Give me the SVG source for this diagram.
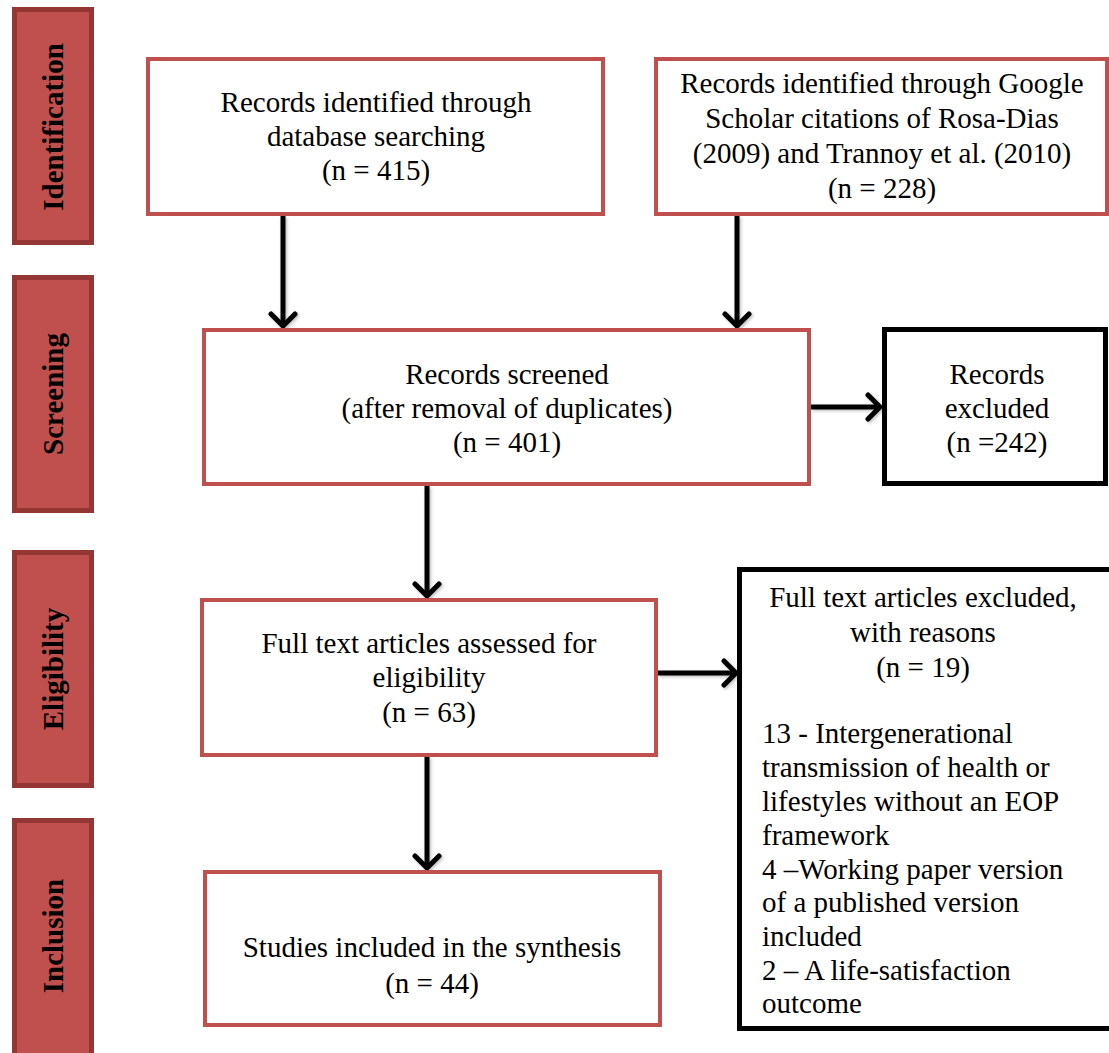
<svg xmlns="http://www.w3.org/2000/svg" width="1109" height="1053" viewBox="0 0 1109 1053">
<style>
.bar{fill:#C0504D;stroke:#943634;stroke-width:5}
.lbl{font-family:"Liberation Serif","Times New Roman",serif;font-size:29px;font-weight:bold;fill:#000;text-anchor:middle}
.rbox{fill:#fff;stroke:#C0504D;stroke-width:4}
.kbox{fill:#fff;stroke:#000;stroke-width:5}
.t{font-family:"Liberation Serif","Times New Roman",serif;font-size:29px;fill:#000;text-anchor:middle}
.tl{font-family:"Liberation Serif","Times New Roman",serif;font-size:29px;fill:#000;text-anchor:start}
.arr{stroke:#000;stroke-width:5;fill:none;marker-end:url(#ah)}
</style>
<defs>
<marker id="ah" markerUnits="userSpaceOnUse" markerWidth="30" markerHeight="30" viewBox="-16 -15 20 30" refX="0" refY="0" orient="auto">
<path d="M-12,-12 L0,0 L-12,12" fill="none" stroke="#000" stroke-width="5" stroke-linecap="round" stroke-linejoin="miter"/>
</marker>
<filter id="sh" x="-20%" y="-20%" width="140%" height="140%">
<feDropShadow dx="1.5" dy="1.5" stdDeviation="1.5" flood-color="#000" flood-opacity="0.25"/>
</filter>
</defs>
<rect width="1109" height="1053" fill="#fff"/>

<g id="phase-identification">
<rect class="bar" x="14.5" y="9.5" width="77" height="233"/>
<text class="lbl" transform="translate(63,127) rotate(-90)">Identification</text>
</g>
<g id="phase-screening">
<rect class="bar" x="14.5" y="277.5" width="77" height="233"/>
<text class="lbl" transform="translate(63,394) rotate(-90)">Screening</text>
</g>
<g id="phase-eligibility">
<rect class="bar" x="14.5" y="552.5" width="77" height="233"/>
<text class="lbl" transform="translate(63,669) rotate(-90)">Eligibility</text>
</g>
<g id="phase-inclusion">
<rect class="bar" x="14.5" y="820.5" width="77" height="240"/>
<text class="lbl" transform="translate(63,936) rotate(-90)">Inclusion</text>
</g>

<g id="connectors" filter="url(#sh)">
<line class="arr" x1="283" y1="216" x2="283" y2="326"/>
<line class="arr" x1="737" y1="216" x2="737" y2="326"/>
<line class="arr" x1="811" y1="407" x2="880" y2="407"/>
<line class="arr" x1="427" y1="486" x2="427" y2="596"/>
<line class="arr" x1="658" y1="673" x2="736" y2="673"/>
<line class="arr" x1="427" y1="757" x2="427" y2="868"/>
</g>

<g id="node-database">
<rect class="rbox" x="148" y="59" width="455" height="155"/>
<text class="t" x="376" y="112">Records identified through</text>
<text class="t" x="376" y="146">database searching</text>
<text class="t" x="376" y="180">(n = 415)</text>
</g>

<g id="node-scholar">
<rect class="rbox" x="656" y="59" width="451" height="155"/>
<text class="t" x="882" y="93">Records identified through Google</text>
<text class="t" x="882" y="128">Scholar citations of Rosa-Dias</text>
<text class="t" x="882" y="163">(2009) and Trannoy et al. (2010)</text>
<text class="t" x="882" y="198">(n = 228)</text>
</g>

<g id="node-screened">
<rect class="rbox" x="204" y="330" width="605" height="154"/>
<text class="t" x="507" y="384">Records screened</text>
<text class="t" x="507" y="418">(after removal of duplicates)</text>
<text class="t" x="507" y="452">(n = 401)</text>
</g>

<g id="node-excluded">
<rect class="kbox" x="884.5" y="329.5" width="221" height="154"/>
<text class="t" x="997" y="384">Records</text>
<text class="t" x="997" y="418">excluded</text>
<text class="t" x="997" y="452">(n =242)</text>
</g>

<g id="node-eligibility">
<rect class="rbox" x="202" y="600" width="454" height="155"/>
<text class="t" x="429" y="653">Full text articles assessed for</text>
<text class="t" x="429" y="687">eligibility</text>
<text class="t" x="429" y="722">(n = 63)</text>
</g>

<g id="node-fulltext-excluded">
<rect class="kbox" x="739.5" y="569.5" width="380" height="459"/>
<text class="t" x="923" y="607">Full text articles excluded,</text>
<text class="t" x="923" y="642">with reasons</text>
<text class="t" x="923" y="677">(n = 19)</text>
<text class="tl" x="762" y="743">13 - Intergenerational</text>
<text class="tl" x="762" y="777">transmission of health or</text>
<text class="tl" x="762" y="811">lifestyles without an EOP</text>
<text class="tl" x="762" y="845">framework</text>
<text class="tl" x="762" y="879">4 –Working paper version</text>
<text class="tl" x="762" y="912">of a published version</text>
<text class="tl" x="762" y="946">included</text>
<text class="tl" x="762" y="980">2 – A life-satisfaction</text>
<text class="tl" x="762" y="1013">outcome</text>
</g>

<g id="node-included">
<rect class="rbox" x="205" y="872" width="455" height="153"/>
<text class="t" x="432" y="957">Studies included in the synthesis</text>
<text class="t" x="432" y="993">(n = 44)</text>
</g>
</svg>
